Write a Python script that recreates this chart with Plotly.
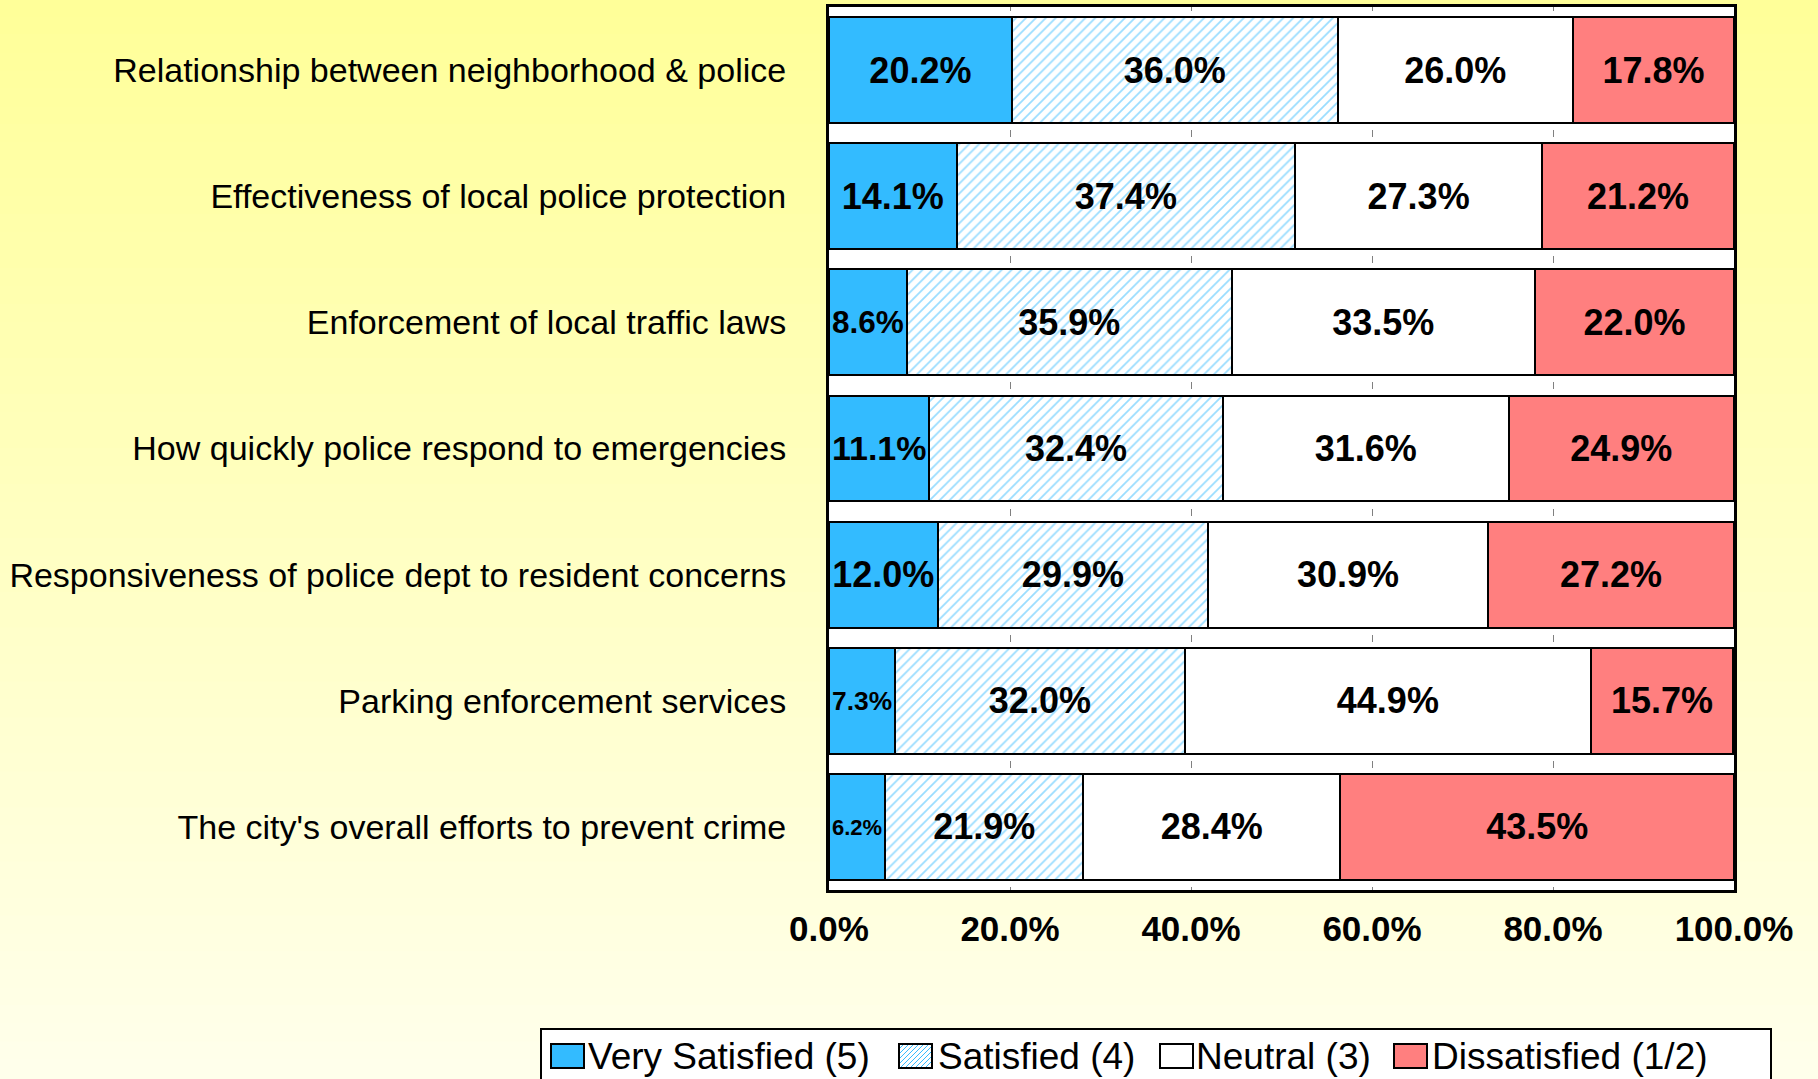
import plotly.graph_objects as go

categories = [
    "Relationship between neighborhood & police",
    "Effectiveness of local police protection",
    "Enforcement of local traffic laws",
    "How quickly police respond to emergencies",
    "Responsiveness of police dept to resident concerns",
    "Parking enforcement services",
    "The city's overall efforts to prevent crime",
]
very_satisfied = [20.2, 14.1, 8.6, 11.1, 12.0, 7.3, 6.2]
satisfied = [36.0, 37.4, 35.9, 32.4, 29.9, 32.0, 21.9]
neutral = [26.0, 27.3, 33.5, 31.6, 30.9, 44.9, 28.4]
dissatisfied = [17.8, 21.2, 22.0, 24.9, 27.2, 15.7, 43.5]
series_names = ["Very Satisfied (5)", "Satisfied (4)", "Neutral (3)", "Dissatisfied (1/2)"]
tick_vals = [0, 20, 40, 60, 80, 100]
tick_text = ["0.0%", "20.0%", "40.0%", "60.0%", "80.0%", "100.0%"]

W, H = 1818, 1079
L, R, T, B = 829, 84, 7, 189
pw, ph = W - L - R, H - T - B

FONT = "Liberation Sans, Arial, sans-serif"
BLUE, RED = "#33BBFF", "#FF7F7F"


def px_x(p):
    return (p - L) / pw


def px_y(p):
    return (T + ph - p) / ph


fig = go.Figure()
styles = [
    dict(color=BLUE),
    dict(color="white", pattern=dict(shape="/", fgcolor=BLUE, bgcolor="white", size=7, solidity=0.25)),
    dict(color="white"),
    dict(color=RED),
]
for name, vals, st in zip(series_names, [very_satisfied, satisfied, neutral, dissatisfied], styles):
    fig.add_trace(go.Bar(
        y=categories, x=vals, name=name, orientation="h", showlegend=False,
        marker=dict(line=dict(color="black", width=2), **st),
        texttemplate="%{x:.1f}%", textposition="inside", insidetextanchor="middle",
        textangle=0,
        textfont=dict(family=FONT, size=36, color="black", weight="bold"),
    ))

# background gradient (margins), then white plot area
shapes = []
n = 60
x0p, x1p = -L / pw, 1 + R / pw
y0p, y1p = -B / ph, 1 + T / ph
top = (255, 255, 153)
bot = (255, 255, 235)
for i in range(n):
    f = i / (n - 1)
    c = tuple(round(top[k] + (bot[k] - top[k]) * f) for k in range(3))
    ya = y1p - (y1p - y0p) * i / n
    yb = y1p - (y1p - y0p) * (i + 1) / n
    shapes.append(dict(type="rect", xref="paper", yref="paper", x0=x0p, x1=x1p, y0=yb, y1=ya + 0.002,
                       line=dict(width=0), fillcolor="rgb(%d,%d,%d)" % c, layer="below"))
shapes.append(dict(type="rect", xref="paper", yref="paper", x0=0, x1=1, y0=0, y1=1,
                   line=dict(width=0), fillcolor="white", layer="below"))

# legend box (drawn manually to get large swatches like the original)
shapes.append(dict(type="rect", xref="paper", yref="paper", x0=px_x(541), x1=px_x(1771),
                   y0=px_y(1095), y1=px_y(1029), line=dict(color="black", width=2), fillcolor="white"))
sw_x = [551, 899, 1160, 1394]
txt_x = [587, 937, 1195, 1431]
sw_w, sw_top, sw_bot = 33, 1044, 1068
sw_fill = [BLUE, "white", "white", RED]
annotations = []
for i, name in enumerate(series_names):
    x0 = sw_x[i]
    shapes.append(dict(type="rect", xref="paper", yref="paper", x0=px_x(x0), x1=px_x(x0 + sw_w),
                       y0=px_y(sw_bot), y1=px_y(sw_top), line=dict(color="black", width=2),
                       fillcolor=sw_fill[i]))
    if i == 1:
        # diagonal hatch inside the swatch
        h = sw_bot - sw_top
        segs = []
        c = -h
        while c < sw_w:
            xa, ya_ = c, sw_bot
            xb, yb_ = c + h, sw_top
            if xa < 0:
                ya_ -= (0 - xa)
                xa = 0
            if xb > sw_w:
                yb_ += (xb - sw_w)
                xb = sw_w
            if xb > xa + 1:
                segs.append("M%.5f,%.5f L%.5f,%.5f" % (px_x(x0 + xa + 1), px_y(ya_ - 1),
                                                      px_x(x0 + xb - 1), px_y(yb_ + 1)))
            c += 5
        shapes.append(dict(type="path", xref="paper", yref="paper", path=" ".join(segs),
                           line=dict(color=BLUE, width=1)))
    annotations.append(dict(xref="paper", yref="paper", x=px_x(txt_x[i]), y=px_y(1056),
                            xanchor="left", yanchor="middle", showarrow=False, text=name,
                            borderpad=0, font=dict(family=FONT, size=37, color="black")))

band = ph / 7.0
fig.update_layout(
    width=W, height=H,
    margin=dict(l=L, r=R, t=T, b=B, autoexpand=False),
    barmode="stack", bargap=0.16,
    paper_bgcolor="#FFFFEB", plot_bgcolor="white",
    shapes=shapes, annotations=annotations,
    showlegend=False,
    font=dict(family=FONT, color="black"),
)
fig.update_xaxes(range=[0, 100], tickvals=tick_vals, ticktext=tick_text,
                 tickfont=dict(family=FONT, size=35, color="black", weight="bold"),
                 showgrid=True, gridcolor="#808080", gridwidth=1,
                 griddash="4px,%.2fpx,3px,0px" % (band - 7),
                 showline=True, linecolor="black", linewidth=3, mirror=True,
                 ticks="", zeroline=False, fixedrange=True, ticklabelstandoff=6)
fig.update_yaxes(autorange="reversed", tickfont=dict(family=FONT, size=34, color="black"),
                 showline=True, linecolor="black", linewidth=3, mirror=True, ticks="",
                 showgrid=False, ticklabelstandoff=33, fixedrange=True)

fig.write_html("out.html")
